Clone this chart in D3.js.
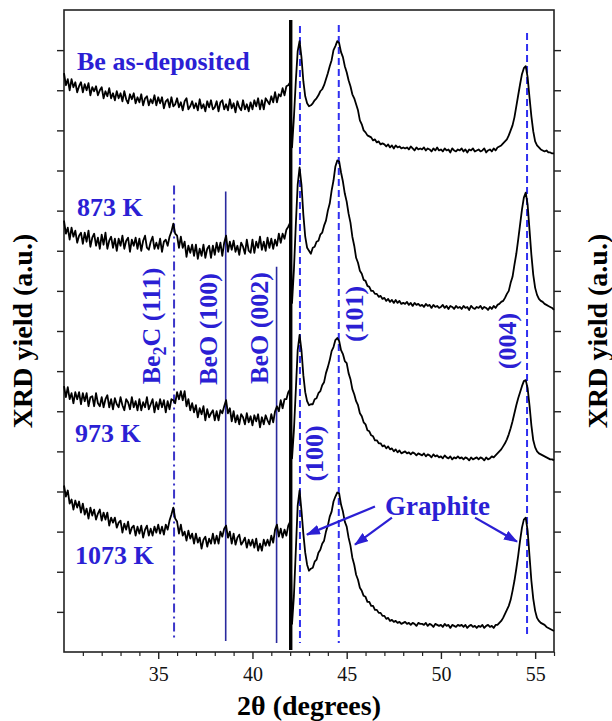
<!DOCTYPE html>
<html>
<head>
<meta charset="utf-8">
<script src="https://cdn.jsdelivr.net/npm/d3@7"></script>
<style>
  body { margin: 0; background: #fff; }
  svg { display: block; }
  text { font-family: "Liberation Serif", "Times New Roman", serif; }
</style>
</head>
<body>
<div id="xrd"></div>
<script>
// 2theta sampling of the scans (degrees)
const twoThetaStart = 30;
const twoThetaStep = 0.1;

const sampleNames = ["Be as-deposited", "873 K", "973 K", "1073 K"];

// XRD yield (a.u., traces already stacked), one value per 0.1 deg from 30.0 to 56.0
const yieldAsDeposited = [
  577,565,571,560,571,563,568,558,564,568,
  558,566,560,567,555,563,559,564,555,560,
  563,552,559,554,562,552,557,550,559,552,
  557,549,559,551,547,556,551,557,547,553,
  548,556,545,552,554,545,551,547,555,545,
  553,547,553,542,549,551,543,553,544,546,
  552,543,548,540,549,552,541,544,549,542,
  547,540,551,542,546,539,549,543,550,541,
  543,549,539,548,550,541,546,540,551,542,
  547,538,549,543,540,550,541,546,539,548,
  541,550,544,552,541,550,541,552,549,546,
  554,548,558,548,556,554,562,555,564,565,
  568,503,533,569,599,609,593,569,554,547,
  544,545,547,550,552,555,559,561,565,571,
  577,584,590,600,604,609,607,598,593,584,
  578,570,564,556,552,546,540,530,526,520,
  518,515,514,513,510,511,508,509,506,507,
  506,504,506,503,505,502,505,503,504,502,
  503,502,503,501,504,502,500,503,501,502,
  501,503,500,502,501,499,502,500,503,500,
  501,499,502,500,501,498,502,500,499,501,
  500,502,499,501,498,501,500,502,499,500,
  501,499,500,502,498,500,501,499,502,500,
  503,504,505,507,509,511,515,520,525,533,
  544,555,566,576,582,584,573,553,534,519,
  509,505,503,501,500,499,500,498,498,497,
  497
];
const yield873 = [
  430,417,423,411,423,414,420,408,415,418,
  407,418,409,420,404,413,417,405,413,402,
  416,406,418,402,410,414,403,412,400,412,
  405,415,402,410,413,399,411,405,413,402,
  412,400,410,415,403,401,409,414,402,408,
  402,412,399,409,411,405,414,419,427,417,
  415,403,414,403,409,394,405,398,406,395,
  406,392,402,395,406,393,402,405,393,405,
  396,408,399,408,395,408,415,399,409,401,
  410,399,405,396,408,404,397,411,400,398,
  411,398,409,403,414,401,409,400,413,403,
  412,402,411,405,417,408,417,412,421,424,
  428,348,381,426,466,483,466,436,414,403,
  400,397,403,404,409,410,416,418,425,430,
  440,447,460,470,484,490,489,478,469,457,
  449,437,428,414,405,393,388,380,377,371,
  370,365,364,360,360,357,357,354,355,352,
  353,350,352,349,351,348,351,348,350,347,
  348,347,349,346,348,345,348,346,347,345,
  346,344,347,345,346,343,346,344,345,343,
  344,346,343,345,342,345,344,342,345,343,
  344,342,345,343,344,341,345,343,342,344,
  343,345,342,344,343,341,344,342,345,343,
  346,347,349,350,353,357,360,368,374,386,
  397,411,426,441,453,458,446,421,396,376,
  363,356,352,350,349,347,346,345,344,343,
  341
];
const yield973 = [
  265,254,264,252,258,248,259,252,259,247,
  258,250,258,245,254,255,245,258,248,245,
  254,244,252,256,244,252,242,253,247,244,
  254,246,241,252,249,242,254,244,250,241,
  252,241,249,244,254,242,247,252,239,249,
  242,252,244,251,239,250,242,252,251,248,
  259,252,260,251,260,245,252,241,248,239,
  246,234,243,237,245,231,242,234,238,241,
  231,240,231,241,238,245,251,238,243,230,
  240,229,236,227,237,234,227,238,229,235,
  226,236,230,237,224,234,227,236,231,227,
  237,229,240,245,240,251,243,252,252,259,
  262,193,221,261,301,316,301,276,259,250,
  246,247,247,252,253,258,260,266,269,278,
  284,291,300,304,311,313,310,301,297,290,
  288,278,272,262,257,250,246,238,235,229,
  227,221,220,216,215,211,211,208,208,205,
  206,203,205,202,203,200,202,199,201,198,
  199,200,198,199,197,199,198,196,198,197,
  196,198,195,197,196,194,197,195,196,194,
  195,193,196,194,193,195,192,194,193,195,
  193,194,192,194,193,191,194,192,193,194,
  192,194,193,191,194,192,193,195,194,196,
  198,200,202,205,208,212,217,223,230,238,
  246,253,259,265,270,271,263,246,226,211,
  204,200,198,197,196,195,194,193,192,192,
  191
];
const yield1073 = [
  166,155,161,148,152,142,151,144,150,139,
  148,137,143,133,144,136,142,132,138,142,
  131,139,132,139,126,134,129,134,124,129,
  131,119,128,122,130,118,124,126,116,125,
  118,126,114,122,126,116,123,116,125,119,
  127,118,125,117,127,122,131,137,144,133,
  130,118,127,116,120,111,121,113,118,108,
  118,109,114,103,112,115,105,113,108,118,
  108,116,108,120,115,123,126,114,120,108,
  118,107,114,117,107,110,114,104,112,106,
  112,104,113,101,108,101,112,106,112,106,
  116,109,122,127,115,123,114,122,116,126,
  130,28,56,101,146,161,141,118,99,87,
  81,83,84,90,92,99,102,108,111,120,
  126,135,140,150,155,159,158,147,140,130,
  125,114,106,94,87,77,72,64,61,56,
  55,50,50,46,46,42,42,39,39,36,
  36,33,34,31,32,30,31,29,30,28,
  29,30,28,29,27,29,28,26,29,28,
  28,27,29,26,28,27,25,28,27,26,
  27,25,28,26,27,24,27,26,25,27,
  26,27,25,27,24,26,27,25,26,24,
  26,25,27,24,26,27,25,26,24,27,
  27,29,31,34,38,42,46,52,61,71,
  83,96,111,124,132,134,121,96,71,53,
  41,34,31,29,28,27,25,24,23,22,
  21
];

// reference peak positions (2theta) and the yield range each marker spans
const refPositions = [35.84, 38.58, 41.28, 42.52, 44.58, 54.57];
const refTops = [465, 459, 384, 624, 625, 617];
const refBottoms = [11, 11, 9, 9, 9, 14];
const refKinds = ["dashdot", "solid", "solid", "dash", "dash", "dash"];

// substrate line
const substratePos = 42.03;
const substrateRange = [2, 630];

const xMajorTicks = [35, 40, 45, 50, 55];
const xMinorTicks = [31, 32, 33, 34, 36, 37, 38, 39, 41, 42, 43, 44, 46, 47, 48, 49, 51, 52, 53, 54, 56];
const yTicks = [40, 80, 120, 160, 200, 240, 280, 320, 360, 400, 440, 480, 520, 560, 600];

class XrdChart {
  constructor(_config) {
    this.config = {
      parentElement: "#xrd",
      containerWidth: 612,
      containerHeight: 721,
      margin: { top: 10, right: 58, bottom: 69, left: 64 },
    };
    this.initVis();
  }

  initVis() {
    let vis = this;
    vis.width = vis.config.containerWidth - vis.config.margin.left - vis.config.margin.right;
    vis.height = vis.config.containerHeight - vis.config.margin.top - vis.config.margin.bottom;

    vis.svgRoot = d3
      .select(vis.config.parentElement)
      .append("svg")
      .attr("width", vis.config.containerWidth)
      .attr("height", vis.config.containerHeight);

    vis.svg = vis.svgRoot
      .append("g")
      .attr("transform", `translate(${vis.config.margin.left},${vis.config.margin.top})`);

    vis.x = d3.scaleLinear().domain([30, 56]).range([0, vis.width]);
    vis.y = d3.scaleLinear().domain([0, 640]).range([vis.height, 0]);

    this.drawAxes();
    this.updateVis();
  }

  drawAxes() {
    let vis = this;

    // bottom axis, major + minor ticks
    const xAxis = vis.svg
      .append("g")
      .attr("transform", `translate(0,${vis.height})`)
      .call(d3.axisBottom(vis.x).tickValues(xMajorTicks).tickSize(7).tickPadding(8).tickFormat(d3.format("d")));
    xAxis.select(".domain").remove();
    xAxis.selectAll("line").attr("stroke", "#222").attr("stroke-width", 1.4);
    xAxis.selectAll("text").attr("font-size", 20).attr("fill", "#111").style("font-family", '"Liberation Serif", serif');

    const xMinor = vis.svg
      .append("g")
      .attr("transform", `translate(0,${vis.height})`)
      .call(d3.axisBottom(vis.x).tickValues(xMinorTicks).tickSize(4).tickFormat(""));
    xMinor.select(".domain").remove();
    xMinor.selectAll("line").attr("stroke", "#222").attr("stroke-width", 1.2);

    // left and right ticks, no labels
    const yLeft = vis.svg.append("g").call(d3.axisLeft(vis.y).tickValues(yTicks).tickSize(7).tickFormat(""));
    yLeft.select(".domain").remove();
    yLeft.selectAll("line").attr("stroke", "#222").attr("stroke-width", 1.4);

    const yRight = vis.svg
      .append("g")
      .attr("transform", `translate(${vis.width},0)`)
      .call(d3.axisRight(vis.y).tickValues(yTicks).tickSize(7).tickFormat(""));
    yRight.select(".domain").remove();
    yRight.selectAll("line").attr("stroke", "#222").attr("stroke-width", 1.4);

    // frame
    vis.svg
      .append("rect")
      .attr("width", vis.width)
      .attr("height", vis.height)
      .attr("fill", "none")
      .attr("stroke", "#222")
      .attr("stroke-width", 1.6);

    // axis titles
    vis.svgRoot
      .append("text")
      .attr("x", vis.config.margin.left + vis.width / 2)
      .attr("y", 715)
      .attr("text-anchor", "middle")
      .attr("font-size", 28)
      .attr("font-weight", "bold")
      .text("2θ (degrees)");

    [32, 607].forEach((px) => {
      vis.svgRoot
        .append("text")
        .attr("transform", `translate(${px},${vis.config.margin.top + vis.height / 2}) rotate(-90)`)
        .attr("text-anchor", "middle")
        .attr("font-size", 28)
        .attr("font-weight", "bold")
        .text("XRD yield (a.u.)");
    });
  }

  updateVis() {
    let vis = this;
    const blue = "#2b1fd4";

    // reference markers
    const dashes = { dashdot: "9,4,2,4", solid: null, dash: "7,4" };
    const colors = { dashdot: "#3b35c8", solid: "#2a2a9e", dash: "#2f2ff0" };
    vis.svg
      .selectAll(".ref")
      .data(refPositions)
      .enter()
      .append("line")
      .attr("class", "ref")
      .attr("x1", (d) => vis.x(d))
      .attr("x2", (d) => vis.x(d))
      .attr("y1", (d, i) => vis.y(refTops[i]))
      .attr("y2", (d, i) => vis.y(refBottoms[i]))
      .attr("stroke", (d, i) => colors[refKinds[i]])
      .attr("stroke-width", (d, i) => (refKinds[i] === "solid" ? 1.6 : 2))
      .attr("stroke-dasharray", (d, i) => dashes[refKinds[i]]);

    // the scans
    const line = d3
      .line()
      .x((d, i) => vis.x(twoThetaStart + i * twoThetaStep))
      .y((d) => vis.y(d));

    vis.svg
      .selectAll(".scan")
      .data([yieldAsDeposited, yield873, yield973, yield1073])
      .enter()
      .append("path")
      .attr("class", "scan")
      .attr("d", line)
      .attr("fill", "none")
      .attr("stroke", "#000")
      .attr("stroke-width", 1.8)
      .attr("stroke-linejoin", "round");

    // substrate peak line
    vis.svg
      .append("line")
      .attr("x1", vis.x(substratePos))
      .attr("x2", vis.x(substratePos))
      .attr("y1", vis.y(substrateRange[1]))
      .attr("y2", vis.y(substrateRange[0]))
      .attr("stroke", "#000")
      .attr("stroke-width", 3.4);

    // sample labels
    const sampleLabelPos = [
      [30.69, 580],
      [30.69, 435],
      [30.58, 209],
      [30.58, 88],
    ];
    vis.svg
      .selectAll(".sample")
      .data(sampleNames)
      .enter()
      .append("text")
      .attr("class", "sample")
      .attr("x", (d, i) => vis.x(sampleLabelPos[i][0]))
      .attr("y", (d, i) => vis.y(sampleLabelPos[i][1]))
      .attr("font-size", 26)
      .attr("font-weight", "bold")
      .attr("fill", blue)
      .text((d) => d);

    // rotated peak labels
    const peakLabels = [
      { t: "BeO (100)", x: 38.12, y: 322 },
      { t: "BeO (002)", x: 40.82, y: 323 },
      { t: "(101)", x: 45.87, y: 337 },
      { t: "(004)", x: 53.98, y: 310 },
      { t: "(100)", x: 43.74, y: 198 },
    ];
    peakLabels.forEach((p) => {
      vis.svg
        .append("text")
        .attr("transform", `translate(${vis.x(p.x)},${vis.y(p.y)}) rotate(-90)`)
        .attr("text-anchor", "middle")
        .attr("font-size", 26)
        .attr("font-weight", "bold")
        .attr("fill", blue)
        .text(p.t);
    });

    const be2c = vis.svg
      .append("text")
      .attr("transform", `translate(${vis.x(35.09)},${vis.y(325)}) rotate(-90)`)
      .attr("text-anchor", "middle")
      .attr("font-size", 26)
      .attr("font-weight", "bold")
      .attr("fill", blue);
    be2c.append("tspan").text("Be");
    be2c.append("tspan").attr("font-size", 18).attr("dy", 6).text("2");
    be2c.append("tspan").attr("dy", -6).text("C (111)");

    // Graphite annotation with arrows
    vis.svgRoot
      .append("defs")
      .append("marker")
      .attr("id", "head")
      .attr("markerUnits", "userSpaceOnUse")
      .attr("markerWidth", 14)
      .attr("markerHeight", 10)
      .attr("refX", 13)
      .attr("refY", 5)
      .attr("orient", "auto")
      .append("path")
      .attr("d", "M0,0 L14,5 L0,10 Z")
      .attr("fill", blue);

    vis.svg
      .append("text")
      .attr("x", vis.x(47.03))
      .attr("y", vis.y(137))
      .attr("font-size", 27)
      .attr("font-weight", "bold")
      .attr("fill", blue)
      .text("Graphite");

    const arrows = [
      [46.5, 145, 42.89, 117],
      [47.4, 134, 45.44, 107],
      [51.81, 134, 54.04, 110],
    ];
    vis.svg
      .selectAll(".arrow")
      .data(arrows)
      .enter()
      .append("line")
      .attr("class", "arrow")
      .attr("x1", (d) => vis.x(d[0]))
      .attr("y1", (d) => vis.y(d[1]))
      .attr("x2", (d) => vis.x(d[2]))
      .attr("y2", (d) => vis.y(d[3]))
      .attr("stroke", blue)
      .attr("stroke-width", 2.2)
      .attr("marker-end", "url(#head)");
  }
}

new XrdChart();
</script>
</body>
</html>
